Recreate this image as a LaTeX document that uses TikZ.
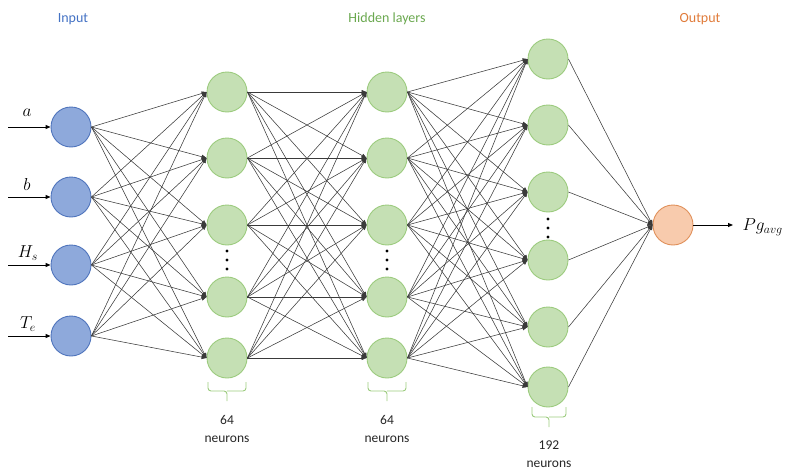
\documentclass[tikz,border=0pt]{standalone}
\usepackage{fontspec}
\setmainfont{Carlito}
\usetikzlibrary{arrows.meta}
\definecolor{inblue}{HTML}{4472C4}
\definecolor{infill}{HTML}{8EA9DB}
\definecolor{inline}{HTML}{4F74BC}
\definecolor{hidgreen}{HTML}{6AA84F}
\definecolor{hidfill}{HTML}{C5E0B4}
\definecolor{hidline}{HTML}{9CCB7E}
\definecolor{outorange}{HTML}{E07B3A}
\definecolor{outfill}{HTML}{F8CBAD}
\definecolor{outline}{HTML}{E0905A}
\definecolor{wire}{HTML}{3A3A3A}
\begin{document}
\begin{tikzpicture}[x=1pt,y=-1pt,
  neuron/.style={circle,minimum size=40pt,inner sep=0pt,line width=0.9pt},
  inneuron/.style={neuron,fill=infill,draw=inline},
  hidneuron/.style={neuron,fill=hidfill,draw=hidline},
  outneuron/.style={neuron,fill=outfill,draw=outline},
  link/.style={draw=wire,line width=0.55pt,-{Triangle[length=5pt,width=4pt]}},
  io/.style={draw=black,line width=0.9pt,-{Triangle[length=5pt,width=4pt]}},
  title/.style={font=\fontsize{14}{16}\selectfont},
  caption/.style={font=\fontsize{13.5}{18}\selectfont,align=center,text=black!85},
  mathlabel/.style={font=\fontsize{17}{19}\selectfont},
  gap/.style={circle,fill=black,inner sep=0pt,minimum size=3.2pt},
  bracket/.style={draw=hidline,line width=0.9pt,rounded corners=3pt}]
\useasboundingbox (0,0) rectangle (787,471);

% titles
\node[title,text=inblue] (tin) at (73,19) {Input};
\node[title,text=hidgreen] (thid) at (387,19) {Hidden layers};
\node[title,text=outorange] (tout) at (700,19) {Output};

% input layer
\foreach \y [count=\i] in {127,197,265,336}
  \node[inneuron] (in\i) at (71,\y) {};

% hidden layers
\foreach \y [count=\i] in {92,158,225,297,358}{
  \node[hidneuron] (ha\i) at (227,\y) {};
  \node[hidneuron] (hb\i) at (387,\y) {};
}
\foreach \y [count=\i] in {59,125,192,260,327,387}
  \node[hidneuron] (hc\i) at (548,\y) {};

% output neuron
\node[outneuron] (out) at (673,225) {};

% ellipsis dots
\foreach \y [count=\k] in {251,260,269}{
  \node[gap] (da\k) at (227,\y) {};
  \node[gap] (db\k) at (387,\y) {};
}
\foreach \y [count=\k] in {219,228,237}
  \node[gap] (dc\k) at (548,\y) {};

% connections
\foreach \i in {1,...,4}
  \foreach \j in {1,...,5}
    \draw[link] (in\i.east) -- (ha\j.west);
\foreach \i in {1,...,5}
  \foreach \j in {1,...,5}
    \draw[link] (ha\i.east) -- (hb\j.west);
\foreach \i in {1,...,5}
  \foreach \j in {1,...,6}
    \draw[link] (hb\i.east) -- (hc\j.west);
\foreach \i in {1,...,6}
  \draw[link] (hc\i.east) -- (out.west);

% input arrows and labels
\foreach \i/\lab/\lx/\ly in {1/a/27/113, 2/b/27/184, 3/H_s/28/253, 4/T_e/28/324}{
  \coordinate (src\i) at (8,0 |- in\i.center);
  \draw[io] (src\i) -- (in\i.west);
  \node[mathlabel] (lab\i) at (\lx,\ly) {$\lab$};
}

% output arrow and label
\coordinate (sink) at (733,225);
\draw[io] (out.east) -- (sink);
\node[mathlabel,anchor=west] (plab) at (739,227) {$Pg_{avg}$};

% braces and neuron counts
\draw[bracket] (208,382) |- (227,391) -- (227,401);
\draw[bracket] (246,382) |- (227,391);
\draw[bracket] (368,382) |- (387,391) -- (387,401);
\draw[bracket] (406,382) |- (387,391);
\draw[bracket] (532,407) |- (549,417) -- (549,427);
\draw[bracket] (566,407) |- (549,417);
\node[caption] (cnta) at (227,429) {64\\neurons};
\node[caption] (cntb) at (387,429) {64\\neurons};
\node[caption] (cntc) at (549,454) {192\\neurons};
\end{tikzpicture}
\end{document}
